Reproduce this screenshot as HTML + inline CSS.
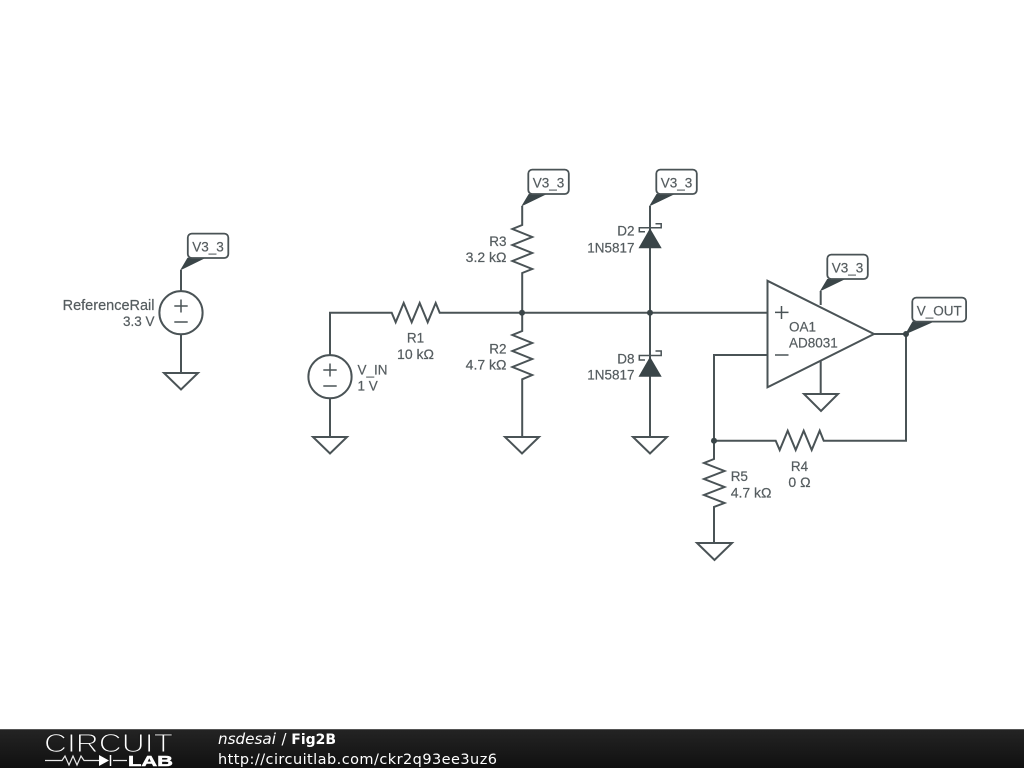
<!DOCTYPE html>
<html><head><meta charset="utf-8"><title>Fig2B</title>
<style>
html,body{margin:0;padding:0;background:#fff;width:1024px;height:768px;overflow:hidden}
svg{display:block}
.w{fill:none;stroke:#4a5356;stroke-width:2;stroke-linejoin:miter}
.s{fill:none;stroke:#4a5356;stroke-width:1.5}
.t{font-family:"Liberation Sans",sans-serif;font-size:13.5px;fill:#555c5f;stroke:#555c5f;stroke-width:.2}
.k{font-size:14px}
.e{text-anchor:end}.m{text-anchor:middle}
.b{fill:#fff;stroke:#4a5356;stroke-width:1.8}
.f{fill:#3a4548}
.d{font-family:"DejaVu Sans",sans-serif;fill:#fff}
</style></head><body>
<svg width="1024" height="768" viewBox="0 0 1024 768" xmlns="http://www.w3.org/2000/svg">
<defs>
<linearGradient id="g" x1="0" y1="0" x2="0" y2="1"><stop offset="0" stop-color="#242424"/><stop offset="1" stop-color="#101010"/></linearGradient>
</defs>
<rect width="1024" height="768" fill="#fff"/>

<!-- ReferenceRail -->
<path class="w" d="M181 270V291M181 334V372.5"/>
<circle class="w" cx="181" cy="312.7" r="21.6"/>
<path class="s" d="M174.3 306H187.7M181 299.5V312.5M174.3 322H187.7"/>
<path class="w" d="M164 373H198L181 389.5Z"/>
<path class="f" d="M180 270.5L187.5 257.7H206Z"/>
<rect class="b" x="187.8" y="233.6" width="40.5" height="24.4" rx="4"/>
<text class="t m" x="208" y="251.7">V3_3</text>
<text class="t e" x="154.5" y="310" style="font-size:14.5px">ReferenceRail</text>
<text class="t e" x="154.5" y="326">3.3 V</text>

<!-- V_IN -->
<path class="w" d="M330 355V312.7H391.7L395.7 322.3L403.7 303L411.7 322.3L419.7 303L427.7 322.3L435.7 303L439.7 312.7H767"/>
<circle class="w" cx="330" cy="376.7" r="21.6"/>
<path class="s" d="M323.3 370H336.7M330 363.5V376.5M323.3 386H336.7"/>
<path class="w" d="M330 398.3V436"/>
<path class="w" d="M313 437H347L330 453.5Z"/>
<text class="t" x="357.5" y="374.3">V_IN</text>
<text class="t" x="357.5" y="390.7">1 V</text>
<text class="t m" x="415.5" y="342.7">R1</text>
<text class="t m k" x="415.5" y="359">10 kΩ</text>

<!-- R3 / R2 -->
<path class="w" d="M522.2 206V225L512.4 229L532.2 237L512.4 245L532.2 253L512.4 261L532.2 269L522.2 273V331L512.4 335L532.2 343L512.4 351L532.2 359L512.4 367L532.2 375L522.2 379.3V436"/>
<path class="w" d="M505 437H539L522 453.5Z"/>
<path class="f" d="M521.2 206.5L528.7 194H547Z"/>
<rect class="b" x="528.3" y="169.6" width="40.5" height="24.4" rx="4"/>
<text class="t m" x="548.5" y="187.7">V3_3</text>
<text class="t e" x="506.5" y="246">R3</text>
<text class="t e k" x="506.5" y="262">3.2 kΩ</text>
<text class="t e" x="506.5" y="353.3">R2</text>
<text class="t e k" x="506.5" y="369.3">4.7 kΩ</text>
<circle class="f" cx="522" cy="312.7" r="3"/>

<!-- Diodes -->
<path class="w" d="M650 206V436"/>
<path class="w" d="M633 437H667L650 453.5Z"/>
<path class="f" d="M649 206.5L656.5 194H675Z"/>
<rect class="b" x="656.3" y="169.6" width="40.5" height="24.4" rx="4"/>
<text class="t m" x="676.5" y="187.7">V3_3</text>
<path class="f" d="M650 228.3L661.7 248.3H638.5Z"/>
<path class="s" d="M645 231.7H639.3V227.7H661.2V223.7H655.5"/>
<path class="f" d="M650 356.7L661.7 376.7H638.5Z"/>
<path class="s" d="M645 360H639.3V355.5H661.2V351H655.5"/>
<text class="t e" x="634.5" y="235.7">D2</text>
<text class="t e" x="634.5" y="252.3">1N5817</text>
<text class="t e" x="634.5" y="363.3">D8</text>
<text class="t e" x="634.5" y="379.3">1N5817</text>
<circle class="f" cx="650" cy="312.7" r="3"/>

<!-- Op amp -->
<path class="w" d="M820.7 291V305M820.7 361V393"/>
<path class="w" d="M767.5 280.8L874 334L767.5 387.3Z" style="fill:none"/>
<path class="s" d="M775 312.4H788.5M781.5 306V319M775 355H788.5"/>
<path class="w" d="M804 394H838L821 411Z"/>
<path class="f" d="M819.7 291.5L827.2 279H845.5Z"/>
<rect class="b" x="827.3" y="254.6" width="40.5" height="24.4" rx="4"/>
<text class="t m" x="847.5" y="272.7">V3_3</text>
<text class="t" x="789" y="331.7">OA1</text>
<text class="t" x="789" y="347.7">AD8031</text>

<!-- Output & feedback -->
<path class="w" d="M874 334H906V440.7H823.7L819.7 430.7L811.7 450L803.7 430.7L795.7 450L787.7 430.7L779.7 450L775.7 440.7H714"/>
<path class="w" d="M767 355H714V459L704 463L724.5 471L704 479L724.5 487L704 495L724.5 503L714 507V542"/>
<path class="w" d="M697 543H732L714.5 560Z"/>
<circle class="f" cx="714" cy="440.7" r="3"/>
<circle class="f" cx="906" cy="334" r="3"/>
<path class="f" d="M905 334.5L912.5 321.5H934.5Z"/>
<rect class="b" x="912.3" y="297.6" width="53.8" height="24" rx="4"/>
<text class="t m" x="939.2" y="315.5">V_OUT</text>
<text class="t m" x="799.5" y="471">R4</text>
<text class="t m k" x="799.5" y="487">0 Ω</text>
<text class="t" x="730.7" y="481">R5</text>
<text class="t k" x="730.7" y="497.3">4.7 kΩ</text>

<!-- Footer -->
<rect x="0" y="729" width="1024" height="39" fill="url(#g)"/>
<rect x="0" y="729" width="1024" height="1" fill="#555"/>
<text x="44" y="752" font-family="Liberation Sans,sans-serif" font-size="26" textLength="129" lengthAdjust="spacingAndGlyphs" fill="#fff" stroke="#1c1c1c" stroke-width="1.1">CIRCUIT</text>
<path d="M45 760.5H62L65 756L69 765L73 756L77 765L81 756L84 760.5H99M113 760.5H127" fill="none" stroke="#e8e8e8" stroke-width="1.2"/>
<path d="M99 755L109 760.5L99 766Z" fill="#fff"/>
<path d="M110.5 755V766" stroke="#fff" stroke-width="1.5"/>
<text x="128" y="766" font-family="Liberation Sans,sans-serif" font-size="15" font-weight="bold" textLength="45" lengthAdjust="spacingAndGlyphs" fill="#fff" stroke="#fff" stroke-width=".5">LAB</text>
<text class="d" x="218" y="744" font-size="15.2" font-style="italic">nsdesai</text>
<text class="d" x="281.5" y="744" font-size="14.7">/</text>
<text class="d" x="291.3" y="744" font-size="14" font-weight="bold">Fig2B</text>
<text class="d" x="218" y="764" font-size="14.5" textLength="279">http://circuitlab.com/ckr2q93ee3uz6</text>
</svg>
</body></html>
